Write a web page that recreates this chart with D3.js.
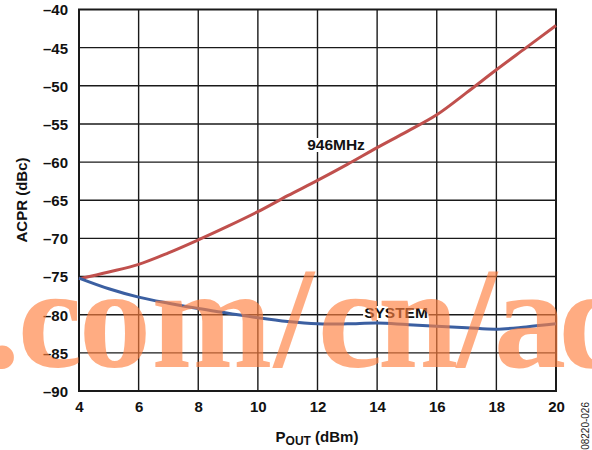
<!DOCTYPE html>
<html><head><meta charset="utf-8">
<script src="https://cdn.jsdelivr.net/npm/d3@7"></script>
<style>body{margin:0;background:#fff}svg{display:block}text{font-family:"Liberation Sans",Arial,sans-serif;font-weight:bold}</style>
</head><body><svg id="c" width="592" height="450"></svg>
<script>
const xTicks = [4, 6, 8, 10, 12, 14, 16, 18, 20];
const yTicks = [-40, -45, -50, -55, -60, -65, -70, -75, -80, -85, -90];
const pout = [4, 5, 6, 7, 8, 9, 10, 11, 12, 13, 14, 15, 16, 17, 18, 19, 20];
const mhz946 = [-75.3, -74.4, -73.4, -71.9, -70.2, -68.4, -66.5, -64.4, -62.4, -60.3, -58.1, -56.0, -53.8, -50.9, -47.9, -45.0, -42.1];
const system = [-75.2, -76.6, -77.7, -78.5, -79.2, -79.8, -80.4, -80.9, -81.2, -81.2, -81.1, -81.3, -81.5, -81.7, -81.9, -81.6, -81.2];
const seriesLabels = ["946MHz", "SYSTEM"];
const watermarkChars = [".", "c", "o", "m", "/", "c", "n", "/", "a", "d"];

const svg = d3.select("#c");
const L = 79, R = 556, T = 9.5, B = 391;
const x = d3.scaleLinear().domain([4, 20]).range([L, R]);
const y = d3.scaleLinear().domain([-90, -40]).range([B, T]);

// grid
svg.append("g").selectAll("line").data(xTicks.slice(1, -1)).join("line")
  .attr("x1", d => x(d)).attr("x2", d => x(d)).attr("y1", T).attr("y2", B)
  .attr("stroke", "#1a1a1a").attr("stroke-width", 1.4);
svg.append("g").selectAll("line").data(yTicks.slice(1, -1)).join("line")
  .attr("y1", d => y(d)).attr("y2", d => y(d)).attr("x1", L).attr("x2", R)
  .attr("stroke", "#1a1a1a").attr("stroke-width", 1.4);

// axes (labels only)
const xa = svg.append("g").attr("transform", `translate(0,${B})`)
  .call(d3.axisBottom(x).tickValues(xTicks).tickSize(0).tickPadding(0));
xa.select(".domain").remove();
xa.selectAll("text").attr("y", 21).attr("dy", 0).attr("font-size", 15).attr("fill", "#111")
  .attr("font-family", null).style("font-family", "'Liberation Sans',Arial,sans-serif").style("font-weight", "bold");
const ya = svg.append("g").attr("transform", `translate(${L},0)`)
  .call(d3.axisLeft(y).tickValues(yTicks).tickSize(0).tickPadding(11).tickFormat(d => String(d).replace("-", "\u2013")));
ya.select(".domain").remove();
ya.selectAll("text").attr("font-size", 15).attr("fill", "#111").attr("dy", "0.36em")
  .attr("font-family", null).style("font-family", "'Liberation Sans',Arial,sans-serif").style("font-weight", "bold");

// frame
svg.append("rect").attr("x", L).attr("y", T).attr("width", R - L).attr("height", B - T)
  .attr("fill", "none").attr("stroke", "#1a1a1a").attr("stroke-width", 2);

// curves
const line = d3.line().x((d, i) => x(pout[i])).y(d => y(d)).curve(d3.curveCatmullRom.alpha(0.5));
svg.append("path").datum(mhz946).attr("d", line).attr("fill", "none").attr("stroke", "#C0504D").attr("stroke-width", 3);
svg.append("path").datum(system).attr("d", line).attr("fill", "none").attr("stroke", "#3B5FA1").attr("stroke-width", 3);

// series labels with white background
function label(txt, cx, by) {
  const t = svg.append("text").attr("x", cx).attr("y", by).attr("text-anchor", "middle")
    .attr("font-size", 15.5).attr("fill", "#111").text(txt);
  const bb = t.node().getBBox();
  svg.insert("rect", () => t.node()).attr("x", bb.x - 1).attr("y", bb.y + 2).attr("width", bb.width + 2).attr("height", bb.height - 3).attr("fill", "#fff");
}
label(seriesLabels[0], 336, 150);
label(seriesLabels[1], 396, 318);

// axis titles
svg.append("text").attr("transform", "translate(27,200) rotate(-90)").attr("text-anchor", "middle")
  .attr("font-size", 15).attr("fill", "#111").text("ACPR (dBc)");
const xt = svg.append("text").attr("x", 317).attr("y", 442).attr("text-anchor", "middle").attr("font-size", 15).attr("fill", "#111");
xt.append("tspan").text("P");
xt.append("tspan").attr("font-size", 12).attr("dy", 3).text("OUT");
xt.append("tspan").attr("dy", -3).text(" (dBm)");

// figure code
svg.append("text").attr("transform", "translate(589,402) rotate(-90)").attr("text-anchor", "end")
  .attr("font-size", 10).style("font-weight", "normal").attr("fill", "#222").text("08220-026");

// watermark (one text element, glyph centres spread to match the reference)
const wmCenters = [2, 50, 115, 212, 294, 350, 418, 477, 530, 598];
svg.append("text").attr("x", wmCenters.join(" ")).attr("y", 367).attr("font-size", 145)
  .attr("text-anchor", "middle")
  .style("font-family", "'Liberation Serif','Times New Roman',serif").style("font-weight", "bold")
  .attr("fill", "#FF7F3F").attr("fill-opacity", 0.65).text(watermarkChars.join(""));
</script></body></html>
